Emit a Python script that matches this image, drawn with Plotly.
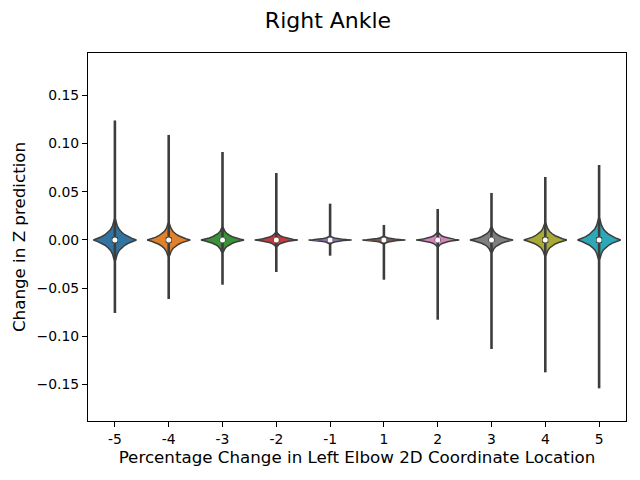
import plotly.graph_objects as go

# Data
categories = ["-5", "-4", "-3", "-2", "-1", "1", "2", "3", "4", "5"]
whisker_max = [0.124, 0.109, 0.0913, 0.0695, 0.0377, 0.0156, 0.0322, 0.0488, 0.0654, 0.0778]
whisker_min = [-0.0757, -0.0612, -0.0464, -0.0332, -0.0163, -0.0412, -0.0827, -0.1131, -0.1373, -0.1539]
medians = [0.0, 0.0, 0.0, 0.0, 0.0, 0.0, 0.0, 0.0, 0.0, 0.0]
q25 = [-0.003, -0.003, -0.002, -0.0015, -0.001, -0.001, -0.0015, -0.002, -0.003, -0.003]
q75 = [0.003, 0.003, 0.002, 0.0015, 0.001, 0.001, 0.0015, 0.002, 0.003, 0.003]
body_up = [0.021, 0.017, 0.013, 0.008, 0.004, 0.004, 0.008, 0.013, 0.017, 0.022]
body_down = [0.021, 0.017, 0.013, 0.007, 0.004, 0.004, 0.007, 0.013, 0.016, 0.020]
# shared relative violin profile (relative height -> relative half width)
profile_h = [0.0, 0.08, 0.16, 0.26, 0.38, 0.52, 0.7, 0.85, 1.0]
profile_w = [1.0, 0.8, 0.62, 0.46, 0.32, 0.2, 0.11, 0.06, 0.03]
colors = ["#3274a1", "#e1812c", "#3a923a", "#c03d3e", "#9372b2",
          "#845b53", "#d684bd", "#7f7f7f", "#a9aa35", "#2ea8b6"]
y_ticks = [-0.15, -0.10, -0.05, 0.0, 0.05, 0.10, 0.15]

gray = "#3d3d3d"
half_width = 0.4

fig = go.Figure()
for i, cat in enumerate(categories):
    m = medians[i]
    ys_right = [m - h * body_down[i] for h in reversed(profile_h)] + \
               [m + h * body_up[i] for h in profile_h[1:]]
    ws_right = list(reversed(profile_w)) + profile_w[1:]
    xs = [i + half_width * w for w in ws_right] + [i - half_width * w for w in reversed(ws_right)]
    ys = ys_right + list(reversed(ys_right))
    fig.add_trace(go.Scatter(x=xs, y=ys, mode="lines", fill="toself",
                             fillcolor=colors[i], line=dict(color=gray, width=1.5),
                             hoverinfo="skip", showlegend=False))
    fig.add_trace(go.Scatter(x=[i, i], y=[whisker_min[i], whisker_max[i]], mode="lines",
                             line=dict(color=gray, width=2.6), showlegend=False))
    fig.add_trace(go.Scatter(x=[i, i], y=[q25[i], q75[i]], mode="lines",
                             line=dict(color=gray, width=6), showlegend=False))
    fig.add_trace(go.Scatter(x=[i], y=[m], mode="markers",
                             marker=dict(color="white", size=5, line=dict(width=0)),
                             showlegend=False))

font_family = "DejaVu Sans"
fig.update_layout(
    width=640, height=480,
    margin=dict(l=80, r=22, t=45, b=67),
    paper_bgcolor="white", plot_bgcolor="white",
    font=dict(family=font_family, color="black"),
    title=dict(text="Right Ankle", x=0.5, xanchor="center", y=1 - 12 / 480,
               yanchor="middle", yref="container",
               font=dict(size=22, family=font_family, color="black")),
    showlegend=False,
)
fig.update_xaxes(
    range=[-0.5, 9.5], tickmode="array", tickvals=list(range(len(categories))),
    ticktext=categories, ticks="outside", ticklen=5, tickwidth=1.1, tickcolor="black",
    showline=True, linecolor="black", linewidth=1.1, mirror=True, showgrid=False,
    zeroline=False, tickfont=dict(size=13.9),
    title=dict(text="Percentage Change in Left Elbow 2D Coordinate Location",
               font=dict(size=16.7), standoff=4),
)
fig.update_yaxes(
    range=[-0.1878, 0.194], tickmode="array", tickvals=y_ticks,
    ticktext=[("\u2212" if v < 0 else "") + f"{abs(v):.2f}" for v in y_ticks],
    ticks="outside", ticklen=5, tickwidth=1.1, tickcolor="black",
    showline=True, linecolor="black", linewidth=1.1, mirror=True, showgrid=False,
    zeroline=False, tickfont=dict(size=13.9),
    title=dict(text="Change in Z prediction", font=dict(size=16.7), standoff=6),
)

fig.write_html("out.html")
